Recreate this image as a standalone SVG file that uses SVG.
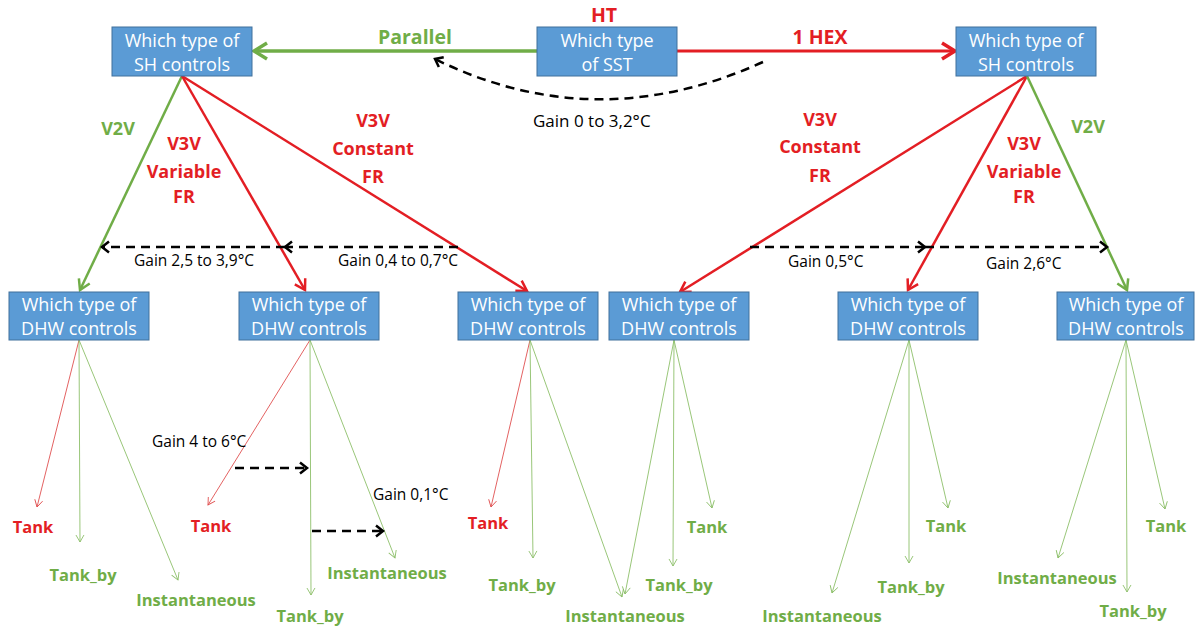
<svg xmlns="http://www.w3.org/2000/svg" width="1195" height="628" viewBox="0 0 1195 628">
<style>
.box{fill:#5B9BD5;stroke:#41719C;stroke-width:1}
.bt{font-family:"Open Sans","Liberation Sans",sans-serif;font-size:18px;fill:#FFFFFF;text-anchor:middle}
.lg{font-family:"Open Sans","Liberation Sans",sans-serif;font-weight:bold;fill:#70AD47;text-anchor:middle}
.lr{font-family:"Open Sans","Liberation Sans",sans-serif;font-weight:bold;fill:#E31E24;text-anchor:middle}
.top{font-size:19.5px}
.br{font-size:18px}
.lf{font-size:16.5px}
.gain{font-family:"Open Sans","Liberation Sans",sans-serif;font-size:15.5px;fill:#000000}
.thg{fill:none;stroke:#70AD47;stroke-width:3.5}
.thr{fill:none;stroke:#E31E24;stroke-width:3}
.mg{fill:none;stroke:#70AD47;stroke-width:2.5}
.mr{fill:none;stroke:#E31E24;stroke-width:2.5}
.dash{fill:none;stroke:#000000;stroke-width:2.5;stroke-dasharray:9 6}
.tg{fill:none;stroke:#8DBF6A;stroke-width:0.9}
.tr{fill:none;stroke:#E05050;stroke-width:0.9}
marker{overflow:visible}
</style>
<defs>
<marker id="ag" markerUnits="userSpaceOnUse" orient="auto" refX="0" refY="0" markerWidth="20" markerHeight="20"><path d="M-13,-8 L0,0 L-13,8" fill="none" stroke="#70AD47" stroke-width="3.5"/></marker>
<marker id="ar" markerUnits="userSpaceOnUse" orient="auto" refX="0" refY="0" markerWidth="20" markerHeight="20"><path d="M-13,-8 L0,0 L-13,8" fill="none" stroke="#E31E24" stroke-width="3.5"/></marker>
<marker id="amg" markerUnits="userSpaceOnUse" orient="auto" refX="0" refY="0" markerWidth="20" markerHeight="20"><path d="M-10,-6 L0,0 L-10,6" fill="none" stroke="#70AD47" stroke-width="2.5"/></marker>
<marker id="amr" markerUnits="userSpaceOnUse" orient="auto" refX="0" refY="0" markerWidth="20" markerHeight="20"><path d="M-10,-6 L0,0 L-10,6" fill="none" stroke="#E31E24" stroke-width="2.5"/></marker>
<marker id="ab" markerUnits="userSpaceOnUse" orient="auto" refX="0" refY="0" markerWidth="20" markerHeight="20"><path d="M-7,-5.5 L0,0 L-7,5.5" fill="none" stroke="#000000" stroke-width="2.5"/></marker>
<marker id="atg" markerUnits="userSpaceOnUse" orient="auto" refX="0" refY="0" markerWidth="20" markerHeight="20"><path d="M-7,-4 L0,0 L-7,4" fill="none" stroke="#8DBF6A" stroke-width="0.9"/></marker>
<marker id="atr" markerUnits="userSpaceOnUse" orient="auto" refX="0" refY="0" markerWidth="20" markerHeight="20"><path d="M-7,-4 L0,0 L-7,4" fill="none" stroke="#E05050" stroke-width="0.9"/></marker>
</defs>

<g id="connectors">
<line class="thg" x1="537" y1="51" x2="254" y2="51" marker-end="url(#ag)"/>
<line class="thr" x1="677" y1="51" x2="955" y2="51" marker-end="url(#ar)"/>
<path class="dash" d="M763,62 Q595,138 435,59" marker-end="url(#ab)"/>

<line class="mg" x1="182" y1="76" x2="80" y2="290" marker-end="url(#amg)"/>
<line class="mr" x1="182" y1="76" x2="305" y2="290" marker-end="url(#amr)"/>
<line class="mr" x1="182" y1="76" x2="527" y2="291" marker-end="url(#amr)"/>
<line class="mr" x1="1027" y1="76" x2="680" y2="292" marker-end="url(#amr)"/>
<line class="mr" x1="1027" y1="76" x2="908" y2="290" marker-end="url(#amr)"/>
<line class="mg" x1="1027" y1="76" x2="1127" y2="290" marker-end="url(#amg)"/>

<line class="dash" x1="458" y1="247" x2="285" y2="247" marker-end="url(#ab)"/>
<line class="dash" x1="285" y1="247" x2="102" y2="247" marker-end="url(#ab)"/>
<line class="dash" x1="750" y1="247" x2="925" y2="247" marker-end="url(#ab)"/>
<line class="dash" x1="925" y1="247" x2="1107" y2="247" marker-end="url(#ab)"/>

<line class="tr" x1="79" y1="340" x2="37" y2="507" marker-end="url(#atr)"/>
<line class="tg" x1="79" y1="340" x2="80" y2="542" marker-end="url(#atg)"/>
<line class="tg" x1="79" y1="340" x2="178" y2="580" marker-end="url(#atg)"/>

<line class="tr" x1="310" y1="340" x2="208" y2="505" marker-end="url(#atr)"/>
<line class="tg" x1="310" y1="340" x2="311" y2="595" marker-end="url(#atg)"/>
<line class="tg" x1="310" y1="340" x2="395" y2="558" marker-end="url(#atg)"/>
<line class="dash" x1="235" y1="468" x2="307" y2="468" marker-end="url(#ab)"/>
<line class="dash" x1="312" y1="531" x2="383" y2="531" marker-end="url(#ab)"/>

<line class="tr" x1="530" y1="340" x2="491" y2="507" marker-end="url(#atr)"/>
<line class="tg" x1="530" y1="340" x2="533" y2="558" marker-end="url(#atg)"/>
<line class="tg" x1="530" y1="340" x2="622" y2="597" marker-end="url(#atg)"/>

<line class="tg" x1="674" y1="340" x2="625" y2="594" marker-end="url(#atg)"/>
<line class="tg" x1="674" y1="340" x2="673" y2="566" marker-end="url(#atg)"/>
<line class="tg" x1="674" y1="340" x2="712" y2="508" marker-end="url(#atg)"/>

<line class="tg" x1="909" y1="340" x2="832" y2="593" marker-end="url(#atg)"/>
<line class="tg" x1="909" y1="340" x2="909" y2="563" marker-end="url(#atg)"/>
<line class="tg" x1="909" y1="340" x2="948" y2="508" marker-end="url(#atg)"/>

<line class="tg" x1="1126" y1="340" x2="1058" y2="558" marker-end="url(#atg)"/>
<line class="tg" x1="1126" y1="340" x2="1127" y2="592" marker-end="url(#atg)"/>
<line class="tg" x1="1126" y1="340" x2="1165" y2="509" marker-end="url(#atg)"/>
</g>

<g id="labels">
<text class="lr top" x="604" y="22">HT</text>
<text class="lg top" x="415" y="44">Parallel</text>
<text class="lr top" x="820" y="44">1 HEX</text>
<text class="gain" x="533" y="127" style="font-size:17px">Gain 0 to 3,2°C</text>

<text class="lg br" x="118" y="135">V2V</text>
<text class="lr br" x="184" y="150">V3V</text>
<text class="lr br" x="184" y="178">Variable</text>
<text class="lr br" x="184" y="203">FR</text>
<text class="lr br" x="373" y="127">V3V</text>
<text class="lr br" x="373" y="155">Constant</text>
<text class="lr br" x="373" y="183">FR</text>

<text class="lr br" x="820" y="126">V3V</text>
<text class="lr br" x="820" y="153">Constant</text>
<text class="lr br" x="820" y="182">FR</text>
<text class="lr br" x="1024" y="150">V3V</text>
<text class="lr br" x="1024" y="178">Variable</text>
<text class="lr br" x="1024" y="203">FR</text>
<text class="lg br" x="1088" y="133">V2V</text>

<text class="gain" x="134" y="266">Gain 2,5 to 3,9°C</text>
<text class="gain" x="338" y="266">Gain 0,4 to 0,7°C</text>
<text class="gain" x="788" y="267">Gain 0,5°C</text>
<text class="gain" x="986" y="269">Gain 2,6°C</text>
<text class="gain" x="152" y="447">Gain 4 to 6°C</text>
<text class="gain" x="373" y="500">Gain 0,1°C</text>

<text class="lr lf" x="33" y="533">Tank</text>
<text class="lg lf" x="83" y="581">Tank_by</text>
<text class="lg lf" x="196" y="606">Instantaneous</text>

<text class="lr lf" x="211" y="532">Tank</text>
<text class="lg lf" x="310" y="622">Tank_by</text>
<text class="lg lf" x="387" y="579">Instantaneous</text>

<text class="lr lf" x="488" y="529">Tank</text>
<text class="lg lf" x="522" y="591">Tank_by</text>
<text class="lg lf" x="625" y="622">Instantaneous</text>

<text class="lg lf" x="707" y="533">Tank</text>
<text class="lg lf" x="679" y="591">Tank_by</text>

<text class="lg lf" x="822" y="622">Instantaneous</text>
<text class="lg lf" x="911" y="593">Tank_by</text>
<text class="lg lf" x="946" y="532">Tank</text>

<text class="lg lf" x="1057" y="584">Instantaneous</text>
<text class="lg lf" x="1133" y="617">Tank_by</text>
<text class="lg lf" x="1166" y="532">Tank</text>
</g>

<g id="sst"><rect class="box" x="537" y="27" width="140" height="49"/><text class="bt" x="607" y="47">Which type</text><text class="bt" x="607" y="71">of SST</text></g>
<g id="sh-left"><rect class="box" x="112" y="27" width="140" height="49"/><text class="bt" x="182" y="47">Which type of</text><text class="bt" x="182" y="71">SH controls</text></g>
<g id="sh-right"><rect class="box" x="956" y="27" width="140" height="49"/><text class="bt" x="1026" y="47">Which type of</text><text class="bt" x="1026" y="71">SH controls</text></g>

<g id="dhw1"><rect class="box" x="9" y="292" width="140" height="48"/><text class="bt" x="79" y="311">Which type of</text><text class="bt" x="79" y="335">DHW controls</text></g>
<g id="dhw2"><rect class="box" x="239" y="292" width="140" height="48"/><text class="bt" x="309" y="311">Which type of</text><text class="bt" x="309" y="335">DHW controls</text></g>
<g id="dhw3"><rect class="box" x="458" y="292" width="140" height="48"/><text class="bt" x="528" y="311">Which type of</text><text class="bt" x="528" y="335">DHW controls</text></g>
<g id="dhw4"><rect class="box" x="609" y="292" width="140" height="48"/><text class="bt" x="679" y="311">Which type of</text><text class="bt" x="679" y="335">DHW controls</text></g>
<g id="dhw5"><rect class="box" x="838" y="292" width="140" height="48"/><text class="bt" x="908" y="311">Which type of</text><text class="bt" x="908" y="335">DHW controls</text></g>
<g id="dhw6"><rect class="box" x="1057" y="292" width="137" height="48"/><text class="bt" x="1126" y="311">Which type of</text><text class="bt" x="1126" y="335">DHW controls</text></g>
</svg>
